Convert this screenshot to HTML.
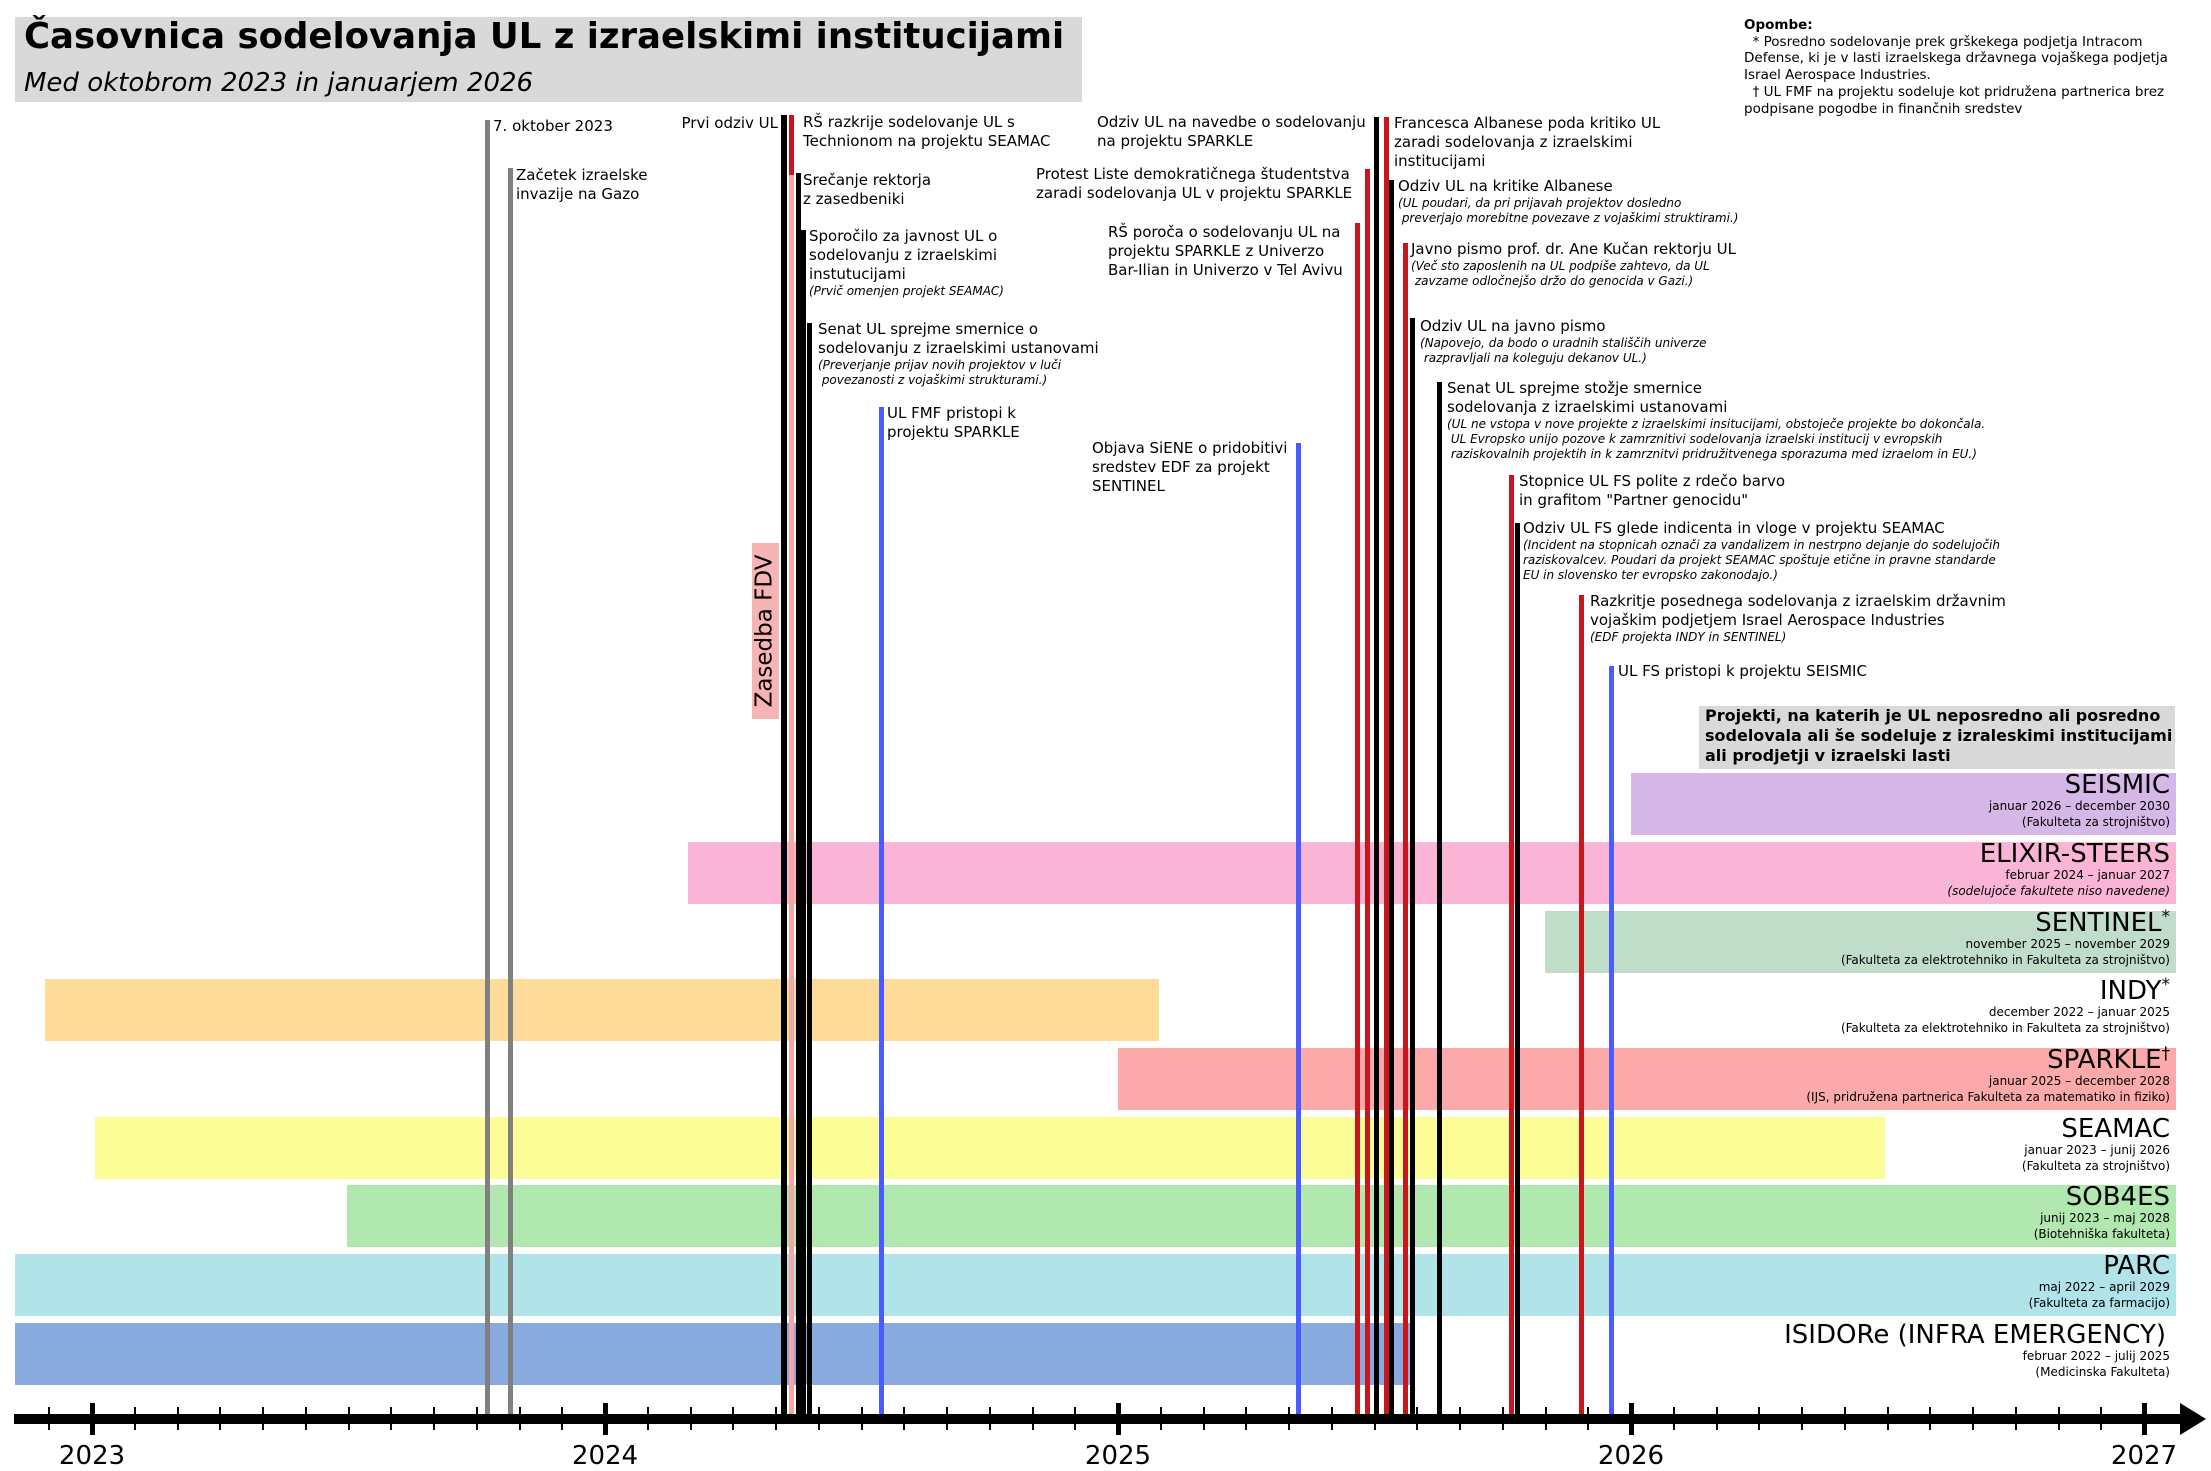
<!DOCTYPE html>
<html><head><meta charset="utf-8"><style>
*{margin:0;padding:0;box-sizing:border-box}
body{width:2211px;height:1471px;background:#fff;position:relative;overflow:hidden;font-family:"DejaVu Sans","Liberation Sans",sans-serif;color:#000}
.a{position:absolute}
.t{position:absolute;font-size:15px;line-height:19px;white-space:nowrap}
.n{font-size:12px;line-height:15px;font-style:italic;display:block}
.v{position:absolute;width:5px;bottom:57px}
.bar{position:absolute;height:62px}
.lab{position:absolute;right:41px;text-align:right;white-space:nowrap}
.lab .nm{font-size:26px;line-height:26px;display:block}
.lab .d{font-size:12px;line-height:16px;display:block}
.lab sup{font-size:17px;vertical-align:top;line-height:14px}
.mt{position:absolute;top:1407px;width:2px;height:23px;background:#000}
.yt{position:absolute;top:1403px;width:5px;height:32px;background:#000}
.yl{position:absolute;top:1441px;font-size:26px;width:100px;margin-left:-50px;text-align:center}
</style></head><body>

<div class="a" style="left:15px;top:17px;width:1067px;height:85px;background:#d9d9d9"></div>
<div class="a" style="left:24px;top:15px;font-size:35.5px;font-weight:bold;line-height:44px;white-space:nowrap">Časovnica sodelovanja UL z izraelskimi institucijami</div>
<div class="a" style="left:24px;top:66px;font-size:26px;font-style:italic;line-height:34px;white-space:nowrap">Med oktobrom 2023 in januarjem 2026</div>

<div class="a" style="left:1744px;top:17px;font-size:13.5px;line-height:16.7px;white-space:nowrap"><b>Opombe:</b><br>&nbsp;&nbsp;* Posredno sodelovanje prek grškekega podjetja Intracom<br>Defense, ki je v lasti izraelskega državnega vojaškega podjetja<br>Israel Aerospace Industries.<br>&nbsp;&nbsp;† UL FMF na projektu sodeluje kot pridružena partnerica brez<br>podpisane pogodbe in finančnih sredstev</div>

<!-- bars -->
<div class="bar" style="left:1631px;width:545px;top:773px;background:#d5b8e8"></div>
<div class="bar" style="left:688px;width:1488px;top:842px;background:#f9b4d6"></div>
<div class="bar" style="left:1545px;width:631px;top:911px;background:#c0ddc9"></div>
<div class="bar" style="left:45px;width:1114px;top:979px;background:#fedb99"></div>
<div class="bar" style="left:1118px;width:1058px;top:1048px;background:#fca9a9"></div>
<div class="bar" style="left:95px;width:1790px;top:1117px;background:#fdfd97"></div>
<div class="bar" style="left:347px;width:1829px;top:1185px;background:#b0e8b0"></div>
<div class="bar" style="left:15px;width:2161px;top:1254px;background:#b0e4e8"></div>
<div class="bar" style="left:15px;width:1395px;top:1323px;background:#88aadf"></div>

<div class="a" style="left:1699px;top:706px;width:476px;height:63px;background:#d9d9d9"></div>
<div class="a" style="left:1705px;top:706px;font-size:16px;font-weight:bold;line-height:20px;white-space:nowrap">Projekti, na katerih je UL neposredno ali posredno<br>sodelovala ali še sodeluje z izraleskimi institucijami<br>ali prodjetji v izraelski lasti</div>

<!-- Zasedba FDV -->
<div class="a" style="left:752px;top:543px;width:27px;height:176px;background:#f6b4b4"></div>
<div class="a" style="left:765px;top:631px;transform:translate(-50%,-50%) rotate(-90deg);font-size:23px;white-space:nowrap;line-height:27px">Zasedba FDV</div>

<!-- vertical lines -->
<div class="v" style="left:485px;top:120px;background:#808080"></div>
<div class="v" style="left:508px;top:168px;background:#808080"></div>
<div class="v" style="left:781px;top:115px;background:#000;width:6px"></div>
<div class="v" style="left:789px;top:115px;background:#f4a6a6"></div>
<div class="a" style="left:789px;top:115px;width:5px;height:60px;background:#c8161d"></div>
<div class="v" style="left:796px;top:173px;background:#000"></div>
<div class="v" style="left:801px;top:230px;background:#000"></div>
<div class="v" style="left:807px;top:323px;background:#000"></div>
<div class="v" style="left:879px;top:407px;background:#4a5cff"></div>
<div class="v" style="left:1296px;top:443px;background:#4a5cff"></div>
<div class="v" style="left:1355px;top:223px;background:#c8161d"></div>
<div class="v" style="left:1365px;top:169px;background:#c8161d"></div>
<div class="v" style="left:1374px;top:117px;background:#000"></div>
<div class="v" style="left:1384px;top:117px;background:#c8161d"></div>
<div class="v" style="left:1389px;top:180px;background:#000"></div>
<div class="v" style="left:1403px;top:243px;background:#c8161d"></div>
<div class="v" style="left:1410px;top:318px;background:#000"></div>
<div class="v" style="left:1437px;top:382px;background:#000"></div>
<div class="v" style="left:1509px;top:475px;background:#c8161d"></div>
<div class="v" style="left:1515px;top:523px;background:#000"></div>
<div class="v" style="left:1579px;top:595px;background:#c8161d"></div>
<div class="v" style="left:1609px;top:666px;background:#4a5cff"></div>

<!-- event labels -->
<div class="t" style="left:493px;top:117px">7. oktober 2023</div>
<div class="t" style="left:516px;top:166px">Začetek izraelske<br>invazije na Gazo</div>
<div class="t" style="right:1433px;top:114px;text-align:right">Prvi odziv UL</div>
<div class="t" style="left:803px;top:113px">RŠ razkrije sodelovanje UL s<br>Technionom na projektu SEAMAC</div>
<div class="t" style="left:803px;top:171px">Srečanje rektorja<br>z zasedbeniki</div>
<div class="t" style="left:809px;top:227px">Sporočilo za javnost UL o<br>sodelovanju z izraelskimi<br>instutucijami<span class="n">(Prvič omenjen projekt SEAMAC)</span></div>
<div class="t" style="left:818px;top:320px">Senat UL sprejme smernice o<br>sodelovanju z izraelskimi ustanovami<span class="n">(Preverjanje prijav novih projektov v luči<br>&nbsp;povezanosti z vojaškimi strukturami.)</span></div>
<div class="t" style="left:887px;top:404px">UL FMF pristopi k<br>projektu SPARKLE</div>
<div class="t" style="left:1092px;top:439px">Objava SiENE o pridobitivi<br>sredstev EDF za projekt<br>SENTINEL</div>
<div class="t" style="left:1097px;top:113px">Odziv UL na navedbe o sodelovanju<br>na projektu SPARKLE</div>
<div class="t" style="left:1036px;top:165px">Protest Liste demokratičnega študentstva<br>zaradi sodelovanja UL v projektu SPARKLE</div>
<div class="t" style="left:1108px;top:223px">RŠ poroča o sodelovanju UL na<br>projektu SPARKLE z Univerzo<br>Bar-Ilian in Univerzo v Tel Avivu</div>
<div class="t" style="left:1394px;top:114px">Francesca Albanese poda kritiko UL<br>zaradi sodelovanja z izraelskimi<br>institucijami</div>
<div class="t" style="left:1398px;top:177px">Odziv UL na kritike Albanese<span class="n">(UL poudari, da pri prijavah projektov dosledno<br>&nbsp;preverjajo morebitne povezave z vojaškimi struktirami.)</span></div>
<div class="t" style="left:1411px;top:240px">Javno pismo prof. dr. Ane Kučan rektorju UL<span class="n">(Več sto zaposlenih na UL podpiše zahtevo, da UL<br>&nbsp;zavzame odločnejšo držo do genocida v Gazi.)</span></div>
<div class="t" style="left:1420px;top:317px">Odziv UL na javno pismo<span class="n">(Napovejo, da bodo o uradnih stališčih univerze<br>&nbsp;razpravljali na koleguju dekanov UL.)</span></div>
<div class="t" style="left:1447px;top:379px">Senat UL sprejme stožje smernice<br>sodelovanja z izraelskimi ustanovami<span class="n">(UL ne vstopa v nove projekte z izraelskimi insitucijami, obstoječe projekte bo dokončala.<br>&nbsp;UL Evropsko unijo pozove k zamrznitivi sodelovanja izraelski institucij v evropskih<br>&nbsp;raziskovalnih projektih in k zamrznitvi pridružitvenega sporazuma med izraelom in EU.)</span></div>
<div class="t" style="left:1519px;top:472px">Stopnice UL FS polite z rdečo barvo<br>in grafitom "Partner genocidu"</div>
<div class="t" style="left:1523px;top:519px">Odziv UL FS glede indicenta in vloge v projektu SEAMAC<span class="n">(Incident na stopnicah označi za vandalizem in nestrpno dejanje do sodelujočih<br>raziskovalcev. Poudari da projekt SEAMAC spoštuje etične in pravne standarde<br>EU in slovensko ter evropsko zakonodajo.)</span></div>
<div class="t" style="left:1590px;top:592px">Razkritje posednega sodelovanja z izraelskim državnim<br>vojaškim podjetjem Israel Aerospace Industries<span class="n">(EDF projekta INDY in SENTINEL)</span></div>
<div class="t" style="left:1618px;top:662px">UL FS pristopi k projektu SEISMIC</div>

<!-- bar labels -->
<div class="lab" style="top:772px"><span class="nm">SEISMIC</span><span class="d">januar 2026 – december 2030</span><span class="d">(Fakulteta za strojništvo)</span></div>
<div class="lab" style="top:841px"><span class="nm">ELIXIR-STEERS</span><span class="d">februar 2024 – januar 2027</span><span class="d"><i>(sodelujoče fakultete niso navedene)</i></span></div>
<div class="lab" style="top:910px"><span class="nm">SENTINEL<sup>*</sup></span><span class="d">november 2025 – november 2029</span><span class="d">(Fakulteta za elektrotehniko in Fakulteta za strojništvo)</span></div>
<div class="lab" style="top:978px"><span class="nm">INDY<sup>*</sup></span><span class="d">december 2022 – januar 2025</span><span class="d">(Fakulteta za elektrotehniko in Fakulteta za strojništvo)</span></div>
<div class="lab" style="top:1047px"><span class="nm">SPARKLE<sup>†</sup></span><span class="d">januar 2025 – december 2028</span><span class="d">(IJS, pridružena partnerica Fakulteta za matematiko in fiziko)</span></div>
<div class="lab" style="top:1116px"><span class="nm">SEAMAC</span><span class="d">januar 2023 – junij 2026</span><span class="d">(Fakulteta za strojništvo)</span></div>
<div class="lab" style="top:1184px"><span class="nm">SOB4ES</span><span class="d">junij 2023 – maj 2028</span><span class="d">(Biotehniška fakulteta)</span></div>
<div class="lab" style="top:1253px"><span class="nm">PARC</span><span class="d">maj 2022 – april 2029</span><span class="d">(Fakulteta za farmacijo)</span></div>
<div class="lab" style="top:1322px;right:45px"><span class="nm">ISIDORe (INFRA EMERGENCY)</span><span class="d" style="margin-right:-4px">februar 2022 – julij 2025</span><span class="d" style="margin-right:-4px">(Medicinska Fakulteta)</span></div>

<!-- axis -->
<div class="a" style="left:14px;top:1414px;width:2172px;height:10px;background:#000"></div>
<svg class="a" style="left:2180px;top:1403px" width="28" height="32"><polygon points="0,0 26,16 0,32" fill="#000"/></svg>
<div id="ticks"></div>
<script>
var h='';
for(var i=-1;i<=48;i++){var x=92+i*513/12;if(i%12==0){h+='<div class="yt" style="left:'+(x-2.5)+'px"></div>';}else{h+='<div class="mt" style="left:'+(x-1)+'px"></div>';}}
var yrs=[2023,2024,2025,2026,2027];
for(var j=0;j<5;j++){h+='<div class="yl" style="left:'+(92+j*513)+'px">'+yrs[j]+'</div>';}
document.getElementById('ticks').innerHTML=h;
</script>
</body></html>
